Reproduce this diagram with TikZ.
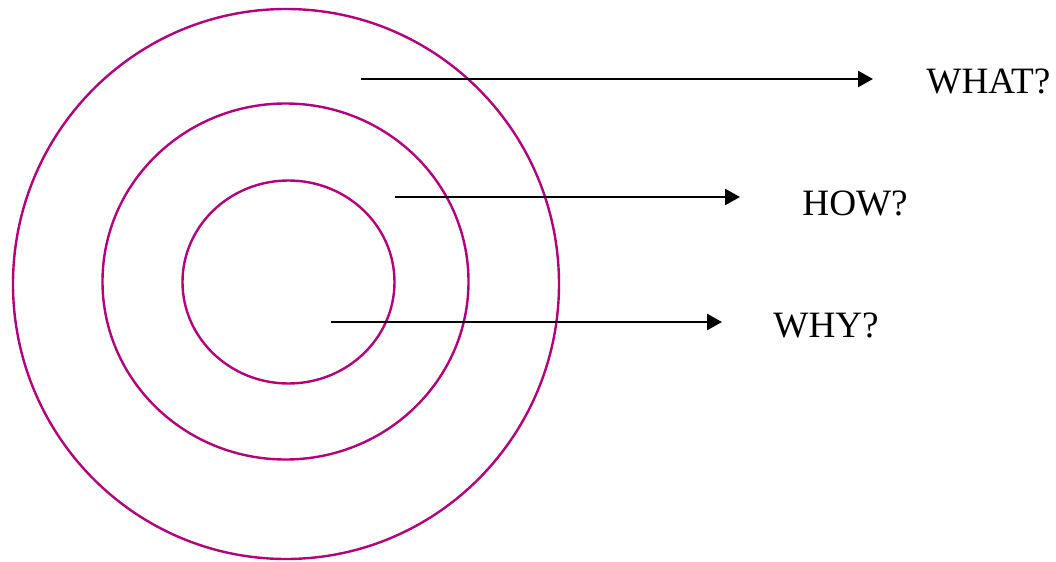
\documentclass[tikz,border=0pt]{standalone}
\usepackage{fontspec}
\setmainfont{Liberation Serif}
\usetikzlibrary{arrows.meta}
\definecolor{ring}{RGB}{180,0,122}
\begin{document}
\begin{tikzpicture}[x=0.5pt,y=-0.5pt,
  ringline/.style={draw=ring,line width=1.2pt},
  arr/.style={draw=black,line width=1.3pt,-{Triangle[length=7.5pt,width=8pt]}},
  lbl/.style={anchor=base west,inner sep=0pt,font=\fontsize{18.6}{20}\selectfont}]
\useasboundingbox (0,0) rectangle (1056,562);
\draw[ringline] (286,284) ellipse [x radius=273, y radius=275];
\draw[ringline] (285.5,281.5) ellipse [x radius=183, y radius=178];
\draw[ringline] (288.5,282) ellipse [x radius=106, y radius=101.5];
\coordinate (s1) at (361,79);  \coordinate (e1) at (873,79);
\coordinate (s2) at (395,197); \coordinate (e2) at (740,197);
\coordinate (s3) at (331,322); \coordinate (e3) at (722,322);
\node[lbl] (what) at (926,93) {WHAT?};
\node[lbl] (how) at (802,215) {HOW?};
\node[lbl] (why) at (773,337) {WHY?};
\draw[arr] (s1) -- (e1);
\draw[arr] (s2) -- (e2);
\draw[arr] (s3) -- (e3);
\end{tikzpicture}
\end{document}
